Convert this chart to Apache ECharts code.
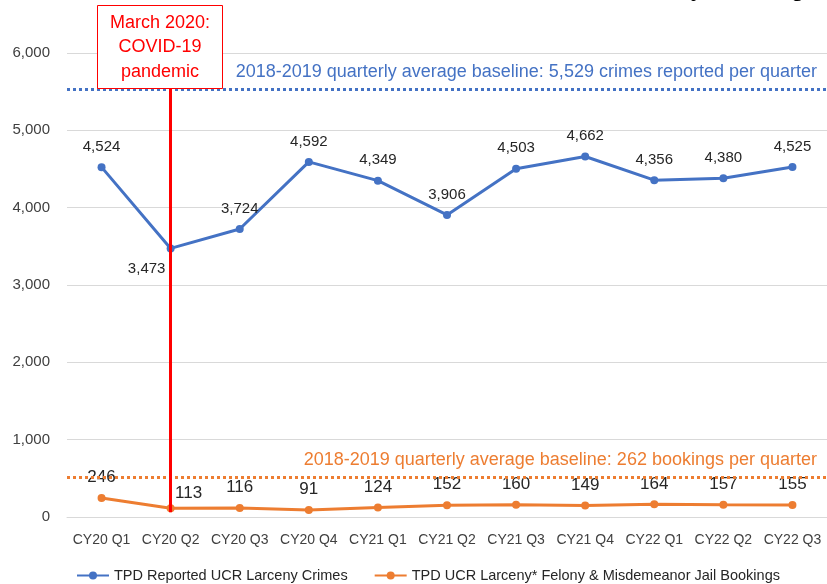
<!DOCTYPE html>
<html>
<head>
<meta charset="utf-8">
<script src="https://cdn.jsdelivr.net/npm/echarts@6/dist/echarts.min.js"></script>
<style>html,body{margin:0;padding:0;background:#fff}#c{width:827px;height:584px}</style>
</head>
<body>
<div id="c"></div>
<script>
const categories = ['CY20 Q1','CY20 Q2','CY20 Q3','CY20 Q4','CY21 Q1','CY21 Q2','CY21 Q3','CY21 Q4','CY22 Q1','CY22 Q2','CY22 Q3'];
const crimes = [4524, 3473, 3724, 4592, 4349, 3906, 4503, 4662, 4356, 4380, 4525];
const bookings = [246, 113, 116, 91, 124, 152, 160, 149, 164, 157, 155];
const crimeBaseline = 5529;
const bookingBaselineLabel = 262;
const bookingBaselineDrawnAt = 520;
const covidCategory = 'CY20 Q2';
const yTicks = [0, 1000, 2000, 3000, 4000, 5000, 6000];

const FONT = '"Liberation Sans", Arial, sans-serif';
const BLUE = '#4472C4', ORANGE = '#ED7D31', RED = '#FF0000';
const fmt = v => Number(v).toLocaleString('en-US');

const chart = echarts.init(document.getElementById('c'));
chart.setOption({
  animation: false,
  textStyle: { fontFamily: FONT },
  grid: { left: 67, top: 53, width: 763, bottom: 67, containLabel: false },
  legend: {
    left: 71, top: 563, itemWidth: 32, itemHeight: 10, itemGap: 26,
    textStyle: { fontSize: 14.5, color: '#262626', fontFamily: FONT },
    data: ['TPD Reported UCR Larceny Crimes', 'TPD UCR Larceny* Felony & Misdemeanor Jail Bookings']
  },
  xAxis: {
    type: 'category', data: categories, boundaryGap: true,
    axisLine: { lineStyle: { color: '#d9d9d9', width: 1 } },
    axisTick: { show: false },
    axisLabel: { color: '#404040', fontSize: 14, margin: 16, interval: 0, fontFamily: FONT }
  },
  yAxis: {
    type: 'value', min: yTicks[0], max: yTicks[yTicks.length - 1], interval: 1000,
    axisLine: { show: false }, axisTick: { show: false },
    splitLine: { lineStyle: { color: '#d9d9d9', width: 1 } },
    axisLabel: { color: '#404040', fontSize: 15, margin: 17, formatter: v => fmt(v), fontFamily: FONT }
  },
  graphic: [
    {
      type: 'text', right: 9, top: -24, z: 100,
      style: { text: 'TPD Crimes vs. Larceny Bookings', font: '26px ' + FONT, fill: '#000' }
    },
    {
      type: 'group', left: 97, top: 5, z: 100,
      children: [
        { type: 'rect', z: 100, shape: { x: 0, y: 0, width: 125, height: 83 },
          style: { fill: '#fff', stroke: RED, lineWidth: 1 } },
        { type: 'text', z: 101, x: 62.5, y: 42,
          style: { text: 'March 2020:\nCOVID-19\npandemic', fill: RED, font: '18px ' + FONT,
                   align: 'center', verticalAlign: 'middle', lineHeight: 24.5 } }
      ]
    }
  ],
  series: [
    {
      name: 'TPD Reported UCR Larceny Crimes', type: 'line', data: crimes.map((v, i) => {
        if (i === 1) return { value: v, label: { position: 'bottom', offset: [-24, 0] } };
        return v;
      }),
      itemStyle: { color: BLUE }, lineStyle: { color: BLUE, width: 3 },
      symbol: 'circle', symbolSize: 8,
      label: { show: true, position: 'top', distance: 9, fontSize: 15, color: '#262626', formatter: p => fmt(p.value), fontFamily: FONT },
      markLine: {
        silent: true, symbol: 'none',
        lineStyle: { color: BLUE, type: 'dotted', width: 3 },
        label: { show: true, position: 'insideEndTop', distance: [10, 8], color: BLUE, fontSize: 18, fontFamily: FONT,
                 formatter: '2018-2019 quarterly average baseline: ' + fmt(crimeBaseline) + ' crimes reported per quarter' },
        data: [{ yAxis: crimeBaseline }]
      }
    },
    {
      name: 'TPD UCR Larceny* Felony & Misdemeanor Jail Bookings', type: 'line', data: bookings.map((v, i) => {
        if (i === 1) return { value: v, label: { offset: [18, 6] } };
        return v;
      }),
      itemStyle: { color: ORANGE }, lineStyle: { color: ORANGE, width: 3 },
      symbol: 'circle', symbolSize: 8,
      label: { show: true, position: 'top', distance: 8, fontSize: 17, color: '#262626', formatter: p => fmt(p.value), fontFamily: FONT },
      markLine: {
        silent: true, symbol: 'none',
        data: [
          { yAxis: bookingBaselineDrawnAt,
            lineStyle: { color: ORANGE, type: 'dotted', width: 3 },
            label: { show: true, position: 'insideEndTop', distance: [10, 8], color: ORANGE, fontSize: 18, fontFamily: FONT,
                     formatter: '2018-2019 quarterly average baseline: ' + bookingBaselineLabel + ' bookings per quarter' } },
          [
            { coord: [covidCategory, 60], lineStyle: { color: RED, type: 'solid', width: 3 }, label: { show: false } },
            { coord: [covidCategory, 5545] }
          ]
        ]
      }
    }
  ]
});
</script>
</body>
</html>
